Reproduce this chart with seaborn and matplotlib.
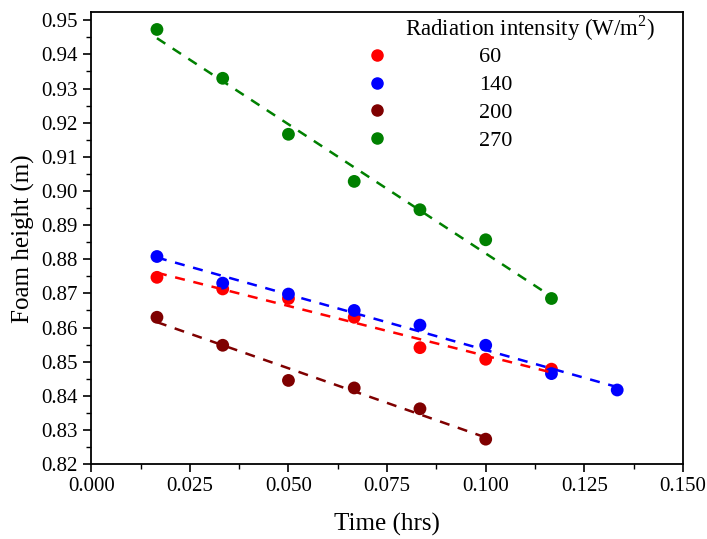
import seaborn as sns
import numpy as np
import pandas as pd
import matplotlib
matplotlib.use("Agg")
import matplotlib.pyplot as plt
from matplotlib.ticker import MultipleLocator

# time in hours (every minute -> 1/60 h)
t60 = [1/60, 2/60, 3/60, 4/60, 5/60, 6/60, 7/60]
h60 = [0.8747, 0.8713, 0.8685, 0.8630, 0.8541, 0.8507, 0.8478]

t140 = [1/60, 2/60, 3/60, 4/60, 5/60, 6/60, 7/60, 8/60]
h140 = [0.8808, 0.8730, 0.8698, 0.8650, 0.8607, 0.8548, 0.8465, 0.8417]

t200 = [1/60, 2/60, 3/60, 4/60, 5/60, 6/60]
h200 = [0.8630, 0.8548, 0.8445, 0.8423, 0.8362, 0.8273]

t270 = [1/60, 2/60, 3/60, 4/60, 5/60, 6/60, 7/60]
h270 = [0.9473, 0.9330, 0.9166, 0.9028, 0.8945, 0.8857, 0.8685]

intensities = ["60", "140", "200", "270"]
colors = ["#ff0000", "#0000ff", "#7f0000", "#008000"]

df = pd.concat([
    pd.DataFrame({"time": t, "height": h, "intensity": lab})
    for t, h, lab in zip([t60, t140, t200, t270], [h60, h140, h200, h270], intensities)
])

sns.set_style("ticks")
plt.rcParams['font.family'] = ['Liberation Serif', 'DejaVu Serif']
plt.rcParams['mathtext.fontset'] = 'custom'
plt.rcParams['mathtext.rm'] = 'Liberation Serif'
plt.rcParams['text.color'] = 'black'
plt.rcParams['axes.labelcolor'] = 'black'
plt.rcParams['xtick.color'] = 'black'
plt.rcParams['ytick.color'] = 'black'

fig = plt.figure(figsize=(7.07, 5.39), dpi=100)
ax = fig.add_axes([0.129, 0.139, 0.837, 0.838])

palette = dict(zip(intensities, colors))
sns.scatterplot(data=df, x="time", y="height", hue="intensity", palette=palette,
                s=85, edgecolor="none", ax=ax, legend=False, zorder=2)

for lab in intensities:
    sub = df[df["intensity"] == lab]
    sns.regplot(data=sub, x="time", y="height", scatter=False, ci=None, ax=ax,
                color=palette[lab], truncate=True,
                line_kws={"linestyle": (0, (4, 3.5)), "linewidth": 1.8, "zorder": 3})

ax.set_xlim(0, 0.15)
ax.set_ylim(0.82, 0.9523)
ax.xaxis.set_major_locator(MultipleLocator(0.025))
ax.xaxis.set_minor_locator(MultipleLocator(0.0125))
ax.yaxis.set_major_locator(MultipleLocator(0.01))
ax.yaxis.set_minor_locator(MultipleLocator(0.005))
ax.xaxis.set_major_formatter(matplotlib.ticker.FormatStrFormatter("%.3f"))
ax.yaxis.set_major_formatter(matplotlib.ticker.FormatStrFormatter("%.2f"))
ax.tick_params(which="major", length=6, width=1.2, labelsize=15, direction="out")
ax.tick_params(which="minor", length=3.5, width=1.0, direction="out")
for sp in ax.spines.values():
    sp.set_linewidth(1.3)
    sp.set_color("black")

ax.set_xlabel("Time (hrs)", fontsize=18, labelpad=12)
ax.set_ylabel("Foam height (m)", fontsize=18, labelpad=5)

handles = [plt.Line2D([], [], marker="o", linestyle="none", color=c, markersize=8)
           for c in colors]
ax.legend(handles, intensities, loc="upper left", bbox_to_anchor=(0.412, 0.968),
          frameon=False, fontsize=16, handletextpad=3.6, labelspacing=0.33)
ax.text(0.530, 0.966, "Radiation intensity (W/m$^2$)", transform=ax.transAxes,
        fontsize=16.5, ha="left", va="center")

fig.savefig("out.png", dpi=100)
